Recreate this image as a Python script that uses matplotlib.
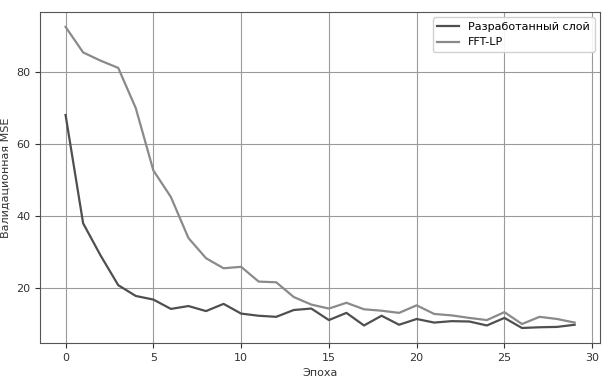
"""
Validation MSE per epoch: developed layer vs FFT-LP
"""
import matplotlib
matplotlib.use('Agg')
import matplotlib.pyplot as plt

epochs = list(range(30))

developed_mse = [68.1, 38.0, 29.0, 20.8, 17.8, 16.8, 14.2, 15.0, 13.6, 15.6,
                 12.9, 12.3, 12.0, 13.9, 14.3, 11.1, 13.1, 9.6, 12.3, 9.8,
                 11.4, 10.4, 10.8, 10.7, 9.6, 11.7, 8.9, 9.1, 9.2, 9.8]

fftlp_mse = [92.6, 85.5, 83.2, 81.2, 70.0, 52.7, 45.3, 33.9, 28.3, 25.5,
             25.9, 21.8, 21.6, 17.5, 15.4, 14.3, 15.9, 14.1, 13.7, 13.1,
             15.2, 12.8, 12.4, 11.7, 11.1, 13.3, 10.0, 12.0, 11.4, 10.4]

labels = ['Разработанный слой', 'FFT-LP']

fig = plt.figure(figsize=(6.08, 3.82), dpi=100)
ax = fig.add_axes([0.066, 0.102, 0.921, 0.867])

ax.plot(epochs, developed_mse, color='#4f4f4f', linewidth=1.6, label=labels[0])
ax.plot(epochs, fftlp_mse, color='#8a8a8a', linewidth=1.6, label=labels[1])

ax.set_xlabel('Эпоха', fontsize=8, color='#333333')
ax.set_ylabel('Валидационная MSE', fontsize=8, color='#333333')
ax.tick_params(labelsize=8, colors='#333333')
ax.grid(True, color='#9a9a9a', linewidth=0.8)
for s in ax.spines.values():
    s.set_color('#555555')

ax.legend(loc='upper right', fontsize=8, framealpha=0.9)

fig.savefig('out.png', dpi=100)
